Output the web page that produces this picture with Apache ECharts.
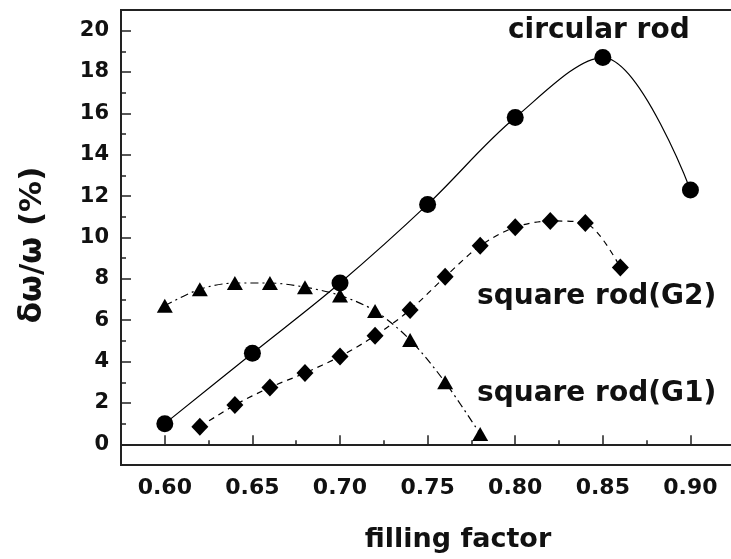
<!DOCTYPE html>
<html>
<head>
<meta charset="utf-8">
<script src="https://cdn.jsdelivr.net/npm/echarts@6/dist/echarts.min.js"></script>
<style>
  html, body { margin: 0; padding: 0; background: #fff; }
  #chart { width: 731px; height: 559px; }
</style>
</head>
<body>
<div id="chart"></div>
<script>
// Relative band width vs filling factor for three rod lattices
const circularX = [0.60, 0.65, 0.70, 0.75, 0.80, 0.85, 0.90];
const circularY = [1.0, 4.4, 7.8, 11.6, 15.8, 18.7, 12.3];

const squareG2X = [0.62, 0.64, 0.66, 0.68, 0.70, 0.72, 0.74, 0.76, 0.78, 0.80, 0.82, 0.84, 0.86];
const squareG2Y = [0.85, 1.9, 2.75, 3.45, 4.25, 5.25, 6.5, 8.1, 9.6, 10.5, 10.8, 10.7, 8.55];

const squareG1X = [0.60, 0.62, 0.64, 0.66, 0.68, 0.70, 0.72, 0.74, 0.76, 0.78];
const squareG1Y = [6.7, 7.5, 7.8, 7.8, 7.6, 7.2, 6.45, 5.05, 3.0, 0.5];

const xTicks = [0.60, 0.65, 0.70, 0.75, 0.80, 0.85, 0.90];
const xMinorTicks = [0.625, 0.675, 0.725, 0.775, 0.825, 0.875];
const yTicks = [0, 2, 4, 6, 8, 10, 12, 14, 16, 18, 20];
const yMinorTicks = [1, 3, 5, 7, 9, 11, 13, 15, 17, 19];

const seriesLabels = ['circular rod', 'square rod(G2)', 'square rod(G1)'];

const FONT = 'DejaVu Sans';
const INK = '#111';
const X_MIN = 0.575, X_MAX = 0.93, Y_MIN = -1, Y_MAX = 21;

function pairs(xs, ys) { return xs.map((x, i) => [x, ys[i]]); }

const baseX = {
  type: 'value', min: X_MIN, max: X_MAX, position: 'bottom',
  splitLine: { show: false }
};
const baseY = {
  type: 'value', min: Y_MIN, max: Y_MAX, position: 'left',
  splitLine: { show: false }
};

const chart = echarts.init(document.getElementById('chart'), null, { renderer: 'canvas' });

chart.setOption({
  backgroundColor: '#fff',
  animation: false,
  grid: {
    left: 121, top: 10, bottom: 94, right: -12,
    show: true, borderColor: '#222', borderWidth: 2,
    backgroundColor: 'transparent',
    outerBoundsMode: 'none'
  },
  xAxis: [
    Object.assign({}, baseX, {
      name: 'filling factor',
      nameLocation: 'middle',
      nameGap: 61,
      nameMoveOverlap: false,
      nameTextStyle: { fontFamily: FONT, fontWeight: 'bold', fontSize: 27, color: INK, padding: [0, 0, 0, 52] },
      axisLine: { show: true, lineStyle: { color: '#222', width: 2 } },
      axisTick: { show: true, inside: true, length: 9, customValues: xTicks, lineStyle: { color: '#222', width: 1.5 } },
      axisLabel: {
        show: true, margin: 12, customValues: xTicks,
        fontFamily: FONT, fontWeight: 'bold', fontSize: 22, color: INK,
        formatter: v => v.toFixed(2)
      }
    }),
    Object.assign({}, baseX, {
      axisLine: { show: false },
      axisTick: { show: true, inside: true, length: 4, customValues: xMinorTicks, lineStyle: { color: '#222', width: 1.5 } },
      axisLabel: { show: false }
    })
  ],
  yAxis: [
    Object.assign({}, baseY, {
      name: 'δω/ω (%)',
      nameLocation: 'middle',
      nameGap: 73,
      nameMoveOverlap: false,
      nameTextStyle: { fontFamily: FONT, fontWeight: 'bold', fontSize: 31, color: INK, padding: [0, 15, 0, 0] },
      axisLine: { show: true, lineStyle: { color: '#222', width: 2 } },
      axisTick: { show: true, inside: true, length: 10, customValues: yTicks, lineStyle: { color: '#222', width: 1.5 } },
      axisLabel: {
        show: true, margin: 12, customValues: yTicks,
        fontFamily: FONT, fontWeight: 'bold', fontSize: 21, color: INK
      }
    }),
    Object.assign({}, baseY, {
      axisLine: { show: false },
      axisTick: { show: true, inside: true, length: 5, customValues: yMinorTicks, lineStyle: { color: '#222', width: 1.5 } },
      axisLabel: { show: false }
    })
  ],
  series: [
    {
      name: seriesLabels[2], type: 'line', xAxisIndex: 0, yAxisIndex: 0,
      data: pairs(squareG1X, squareG1Y),
      smooth: 0.3,
      symbol: 'triangle', symbolSize: [16, 14],
      itemStyle: { color: '#000' },
      lineStyle: { color: '#000', width: 1.2, type: [8, 4, 2, 4] },
      z: 2
    },
    {
      name: seriesLabels[1], type: 'line', xAxisIndex: 0, yAxisIndex: 0,
      data: pairs(squareG2X, squareG2Y),
      smooth: 0.3,
      symbol: 'diamond', symbolSize: [17, 18],
      itemStyle: { color: '#000' },
      lineStyle: { color: '#000', width: 1.2, type: [6, 5] },
      z: 3
    },
    {
      name: seriesLabels[0], type: 'line', xAxisIndex: 0, yAxisIndex: 0,
      data: pairs(circularX, circularY),
      smooth: 0.35,
      symbol: 'circle', symbolSize: 17,
      itemStyle: { color: '#000' },
      lineStyle: { color: '#000', width: 1.2, type: 'solid' },
      z: 4
    }
  ],
  graphic: [
    { type: 'text', left: 508, top: 17, silent: true,
      style: { text: seriesLabels[0], font: 'bold 28px "DejaVu Sans"', fill: INK } },
    { type: 'text', left: 477, top: 283, silent: true,
      style: { text: seriesLabels[1], font: 'bold 28px "DejaVu Sans"', fill: INK } },
    { type: 'text', left: 477, top: 380, silent: true,
      style: { text: seriesLabels[2], font: 'bold 28px "DejaVu Sans"', fill: INK } }
  ]
});
</script>
</body>
</html>
